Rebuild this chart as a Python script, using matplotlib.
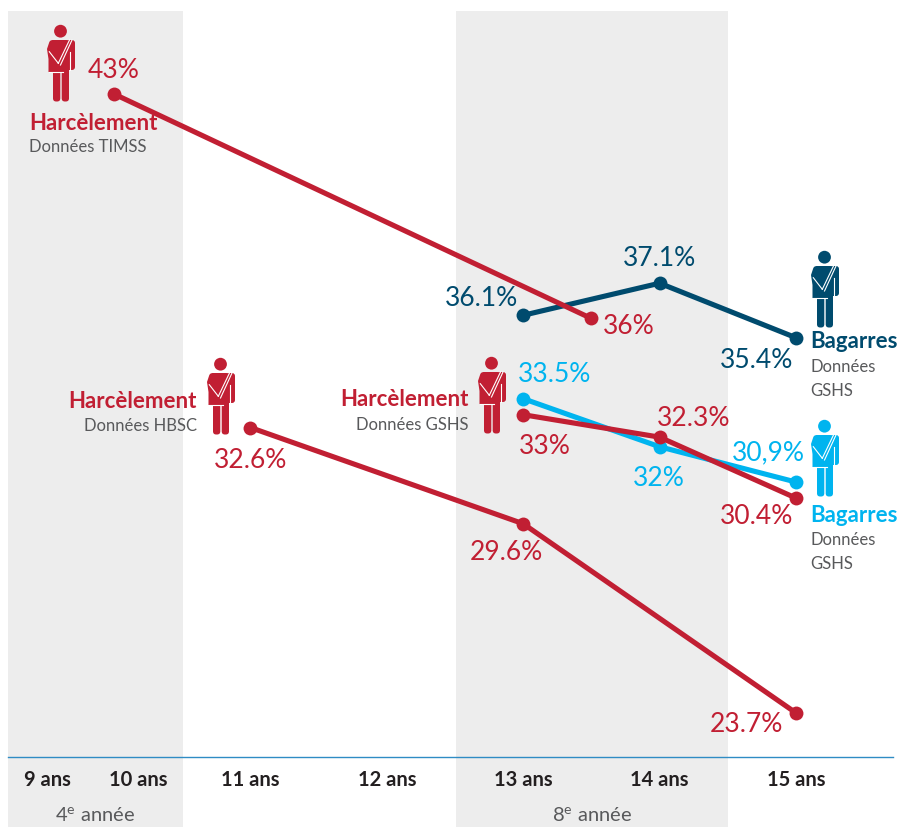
import matplotlib
matplotlib.use("Agg")
import matplotlib.pyplot as plt
from matplotlib.patches import Circle, Polygon, FancyBboxPatch
from matplotlib.transforms import Affine2D

RED = "#C11F33"
NAVY = "#004B6E"
CYAN = "#00B4EF"
GREY = "#58595B"
BAND = "#EDEDED"

# each series: ages and values
timss_age = [10, 13.5]
timss_val = [43, 36]
hbsc_age = [11, 13, 15]
hbsc_val = [32.6, 29.6, 23.7]
gshs_age = [13, 14, 15]
gshs_harc = [33, 32.3, 30.4]
gshs_bag_cyan = [33.5, 32, 30.9]
gshs_bag_navy = [36.1, 37.1, 35.4]

tick_pos = [9.51, 10.18, 11, 12, 13, 14, 15]
tick_labels = ["9 ans", "10 ans", "11 ans", "12 ans", "13 ans", "14 ans", "15 ans"]

plt.rcParams["font.family"] = ["Lato", "DejaVu Sans"]
plt.rcParams["mathtext.fontset"] = "custom"
plt.rcParams["mathtext.rm"] = "Lato"

fig = plt.figure(figsize=(8.98, 8.27), dpi=100)
ax = fig.add_axes([8 / 898, 70 / 827, 885 / 898, 757 / 827])

# x: 136.4 px per year, y: 32.07 px per point
ax.set_xlim(10 + (8 - 114) / 136.4, 10 + (893 - 114) / 136.4)
ax.set_ylim(43 - (757 - 94) / 32.07, 43 + 94 / 32.07)

# pixel coordinates, origin top left, for text and icons
px = Affine2D().scale(1, -1).translate(0, 827)


def band(x0, x1):
    ax.axvspan(10 + (x0 - 114) / 136.4, 10 + (x1 - 114) / 136.4, ymin=-70 / 757, ymax=746 / 757,
               color=BAND, lw=0, clip_on=False, zorder=0)


band(8, 183)
band(456, 728)


def line(x, y, color):
    ax.plot(x, y, color=color, lw=3.7, marker="o", ms=10, mew=0, zorder=3, solid_capstyle="round")


line(gshs_age, gshs_bag_navy, NAVY)
line(gshs_age, gshs_bag_cyan, CYAN)
line(gshs_age, gshs_harc, RED)
line(hbsc_age, hbsc_val, RED)
line(timss_age, timss_val, RED)

for s in ["top", "left", "right"]:
    ax.spines[s].set_visible(False)
ax.spines["bottom"].set_color("#2F8CC4")
ax.spines["bottom"].set_linewidth(1.0)
ax.patch.set_visible(False)
ax.set_yticks([])
ax.set_xticks(tick_pos)
ax.set_xticklabels(tick_labels, fontsize=14.5, fontweight="bold", color="#231F20")
ax.tick_params(axis="x", length=0, pad=9)


def value(x, y, s, color):
    fig.text(x, y, s, transform=px, color=color, fontsize=19, ha="center", va="center")


value(114, 70, "43%", RED)
value(482, 299, "36.1%", NAVY)
value(659, 259, "37.1%", NAVY)
value(629, 327, "36%", RED)
value(757, 361, "35.4%", NAVY)
value(555, 374, "33.5%", CYAN)
value(545, 446, "33%", RED)
value(694, 419, "32.3%", RED)
value(659, 479, "32%", CYAN)
value(768, 453, "30,9%", CYAN)
value(757, 516, "30.4%", RED)
value(251, 460, "32.6%", RED)
value(506, 553, "29.6%", RED)
value(746, 724, "23.7%", RED)


def label(x, y, s, color, ha="left", bold=True, size=16):
    fig.text(x, y, s, transform=px, color=color, fontsize=size, ha=ha, va="center",
             fontweight="bold" if bold else "normal")


label(29, 123, "Harcèlement", RED)
label(29, 147, "Données TIMSS", GREY, bold=False, size=12)
label(197, 401, "Harcèlement", RED, ha="right")
label(197, 426, "Données HBSC", GREY, ha="right", bold=False, size=12)
label(469, 400, "Harcèlement", RED, ha="right")
label(469, 425, "Données GSHS", GREY, ha="right", bold=False, size=12)
label(810, 342, "Bagarres", NAVY)
label(810, 367, "Données", GREY, bold=False, size=12)
label(810, 391, "GSHS", GREY, bold=False, size=12)
label(810, 515, "Bagarres", CYAN)
label(810, 540, "Données", GREY, bold=False, size=12)
label(810, 564, "GSHS", GREY, bold=False, size=12)

fig.text(95, 816, "4$^{\\mathrm{e}}$ année", transform=px, color=GREY, fontsize=14.5, ha="center", va="center")
fig.text(592, 816, "8$^{\\mathrm{e}}$ année", transform=px, color=GREY, fontsize=14.5, ha="center", va="center")


def person(x, y, color):
    # icon outline in px, relative to its top left corner
    t = Affine2D().translate(x, y) + px
    parts = [
        Circle((14.5, 6.2), 6.4),
        FancyBboxPatch((3, 15), 21, 30, boxstyle="round,pad=0,rounding_size=4"),
        FancyBboxPatch((20, 15), 9, 30, boxstyle="round,pad=0,rounding_size=3"),
        Polygon([(1, 24), (3, 18), (8, 15), (17, 15), (17, 47), (2.5, 47), (2.5, 34)]),
        FancyBboxPatch((7, 40), 7.3, 36.5, boxstyle="round,pad=0,rounding_size=3.2"),
        FancyBboxPatch((15.7, 40), 7.3, 36.5, boxstyle="round,pad=0,rounding_size=3.2"),
    ]
    for p in parts:
        p.set(facecolor=color, edgecolor="none", transform=t, zorder=4)
        fig.add_artist(p)
    white = [((23.5, 12.3), (15, 38.3)), ((26, 14.5), (15, 40)), ((3.3, 12.3), (26.7, 38.3)),
             ((2.5, 17), (47, 47)), ((23.7, 23.7), (27, 45))]
    for xs, ys in white:
        fig.add_artist(plt.Line2D(xs, ys, color="white", lw=0.8, transform=t, zorder=5))


person(46, 25, RED)
person(206, 358, RED)
person(477, 357, RED)
person(810, 251, NAVY)
person(810, 420, CYAN)

fig.savefig("out.png", dpi=100)
